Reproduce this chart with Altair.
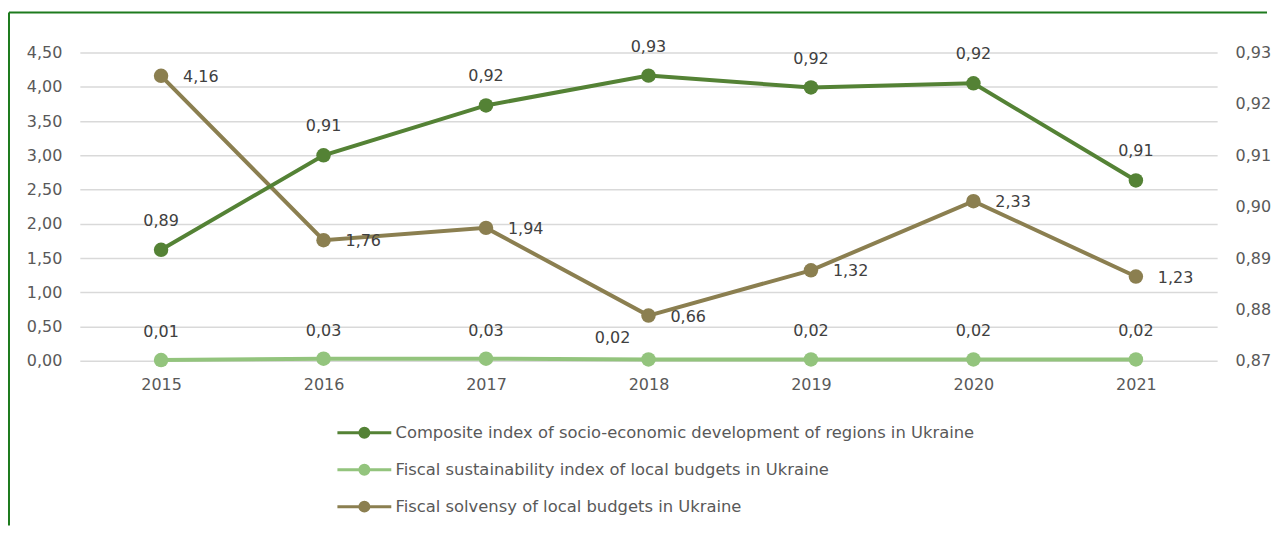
import altair as alt
import pandas as pd

FONT = "DejaVu Sans"

years = ["2015", "2016", "2017", "2018", "2019", "2020", "2021"]
composite = [0.8916, 0.9100, 0.9197, 0.9255, 0.9232, 0.9240, 0.9051]
sustainability = [0.01, 0.03, 0.03, 0.02, 0.02, 0.02, 0.02]
solvency = [4.16, 1.76, 1.94, 0.66, 1.32, 2.33, 1.23]

series_names = [
    "Composite index of socio-economic development of regions in Ukraine",
    "Fiscal sustainability index of local budgets in Ukraine",
    "Fiscal solvensy of local budgets in Ukraine",
]
colors = ["#548235", "#93C47D", "#8B7F50"]
left_ticks = [0, 0.5, 1, 1.5, 2, 2.5, 3, 3.5, 4, 4.5]
right_ticks = [0.87, 0.88, 0.89, 0.90, 0.91, 0.92, 0.93]


def fmt(v):
    return f"{v:.2f}".replace(".", ",")


rows_left = []
for name, vals in [(series_names[1], sustainability), (series_names[2], solvency)]:
    for y, v in zip(years, vals):
        rows_left.append({"year": y, "series": name, "value": v, "label": fmt(v)})
df_left = pd.DataFrame(rows_left)
df_right = pd.DataFrame(
    {"year": years, "series": series_names[0], "value": composite,
     "label": [fmt(v) for v in composite]}
)

legend_path = ("M-27,0H27 "
               "M4.5,0A4.5,4.5 0 1,1 -4.5,0A4.5,4.5 0 1,1 4.5,0 "
               "M3,0A3,3 0 1,1 -3,0A3,3 0 1,1 3,0 "
               "M1.5,0A1.5,1.5 0 1,1 -1.5,0A1.5,1.5 0 1,1 1.5,0")

legend = alt.Legend(
    title=None, orient="none", legendX=277, legendY=373, direction="vertical",
    symbolType=legend_path, symbolSize=4, symbolStrokeWidth=3, symbolOpacity=1,
    labelFont=FONT, labelFontSize=16.4, labelColor="#595959", labelOffset=23,
    rowPadding=15, labelLimit=1000,
)
color = alt.Color("series:N", scale=alt.Scale(domain=series_names, range=colors), legend=legend)

x = alt.X("year:N", sort=years, title=None,
          axis=alt.Axis(labelAngle=0, ticks=False, domain=False, grid=False,
                        labelPadding=16, labelFont=FONT, labelFontSize=16,
                        labelColor="#595959"))

y_left = alt.Y("value:Q", title=None,
               scale=alt.Scale(domain=[0, 4.5], nice=False, zero=False),
               axis=alt.Axis(orient="left", values=left_ticks, grid=True, gridColor="#D9D9D9",
                             gridWidth=1.5, domain=False, ticks=False, labelPadding=18,
                             labelFont=FONT, labelFontSize=16, labelColor="#595959",
                             labelExpr="replace(format(datum.value, '.2f'), '.', ',')"))
y_right = alt.Y("value:Q", title=None,
                scale=alt.Scale(domain=[0.87, 0.93], nice=False, zero=False),
                axis=alt.Axis(orient="right", values=right_ticks, grid=False,
                              domain=False, ticks=False, labelPadding=18,
                              labelFont=FONT, labelFontSize=16, labelColor="#595959",
                              labelExpr="replace(format(datum.value, '.2f'), '.', ',')"))

base_left = alt.Chart(df_left).encode(x=x, y=y_left)
line_left = base_left.mark_line(strokeWidth=4).encode(color=color)
pts_left = base_left.mark_point(filled=True, size=210, opacity=1).encode(color=color)
txt_sust = base_left.transform_filter(
    (alt.datum.series == series_names[1]) & (alt.datum.year != "2018")
).mark_text(font=FONT, fontSize=16, color="#404040", dy=-28, baseline="middle").encode(text="label:N")
txt_sust_2018 = base_left.transform_filter(
    (alt.datum.series == series_names[1]) & (alt.datum.year == "2018")
).mark_text(font=FONT, fontSize=16, color="#404040", dx=-36, dy=-21, baseline="middle").encode(text="label:N")
txt_solv = base_left.transform_filter(alt.datum.series == series_names[2]).mark_text(
    font=FONT, fontSize=16, color="#404040", dx=22, dy=1, align="left", baseline="middle"
).encode(text="label:N")
left_layer = alt.layer(line_left, pts_left, txt_sust, txt_sust_2018, txt_solv)

base_right = alt.Chart(df_right).encode(x=x, y=y_right)
line_right = base_right.mark_line(strokeWidth=4).encode(color=color)
pts_right = base_right.mark_point(filled=True, size=210, opacity=1).encode(color=color)
txt_comp = base_right.mark_text(font=FONT, fontSize=16, color="#404040", dy=-29,
                                baseline="middle").encode(text="label:N")
right_layer = alt.layer(line_right, pts_right, txt_comp)

frame_df = pd.DataFrame({"k": [0]})
frame_top = alt.Chart(frame_df).mark_rule(color="#1E7B1E", strokeWidth=2).encode(
    x=alt.value(-71), x2=alt.value(1190), y=alt.value(-40))
frame_left = alt.Chart(frame_df).mark_rule(color="#1E7B1E", strokeWidth=2).encode(
    x=alt.value(-71), y=alt.value(-40), y2=alt.value(474))

chart = alt.layer(left_layer, right_layer, frame_top, frame_left).resolve_scale(
    y="independent"
).properties(
    width=1140, height=309,
    padding={"left": 0, "top": 3, "right": 0, "bottom": 0},
).configure_view(stroke=None)

chart.save("out.html", embed_options={"renderer": "svg", "actions": False})
